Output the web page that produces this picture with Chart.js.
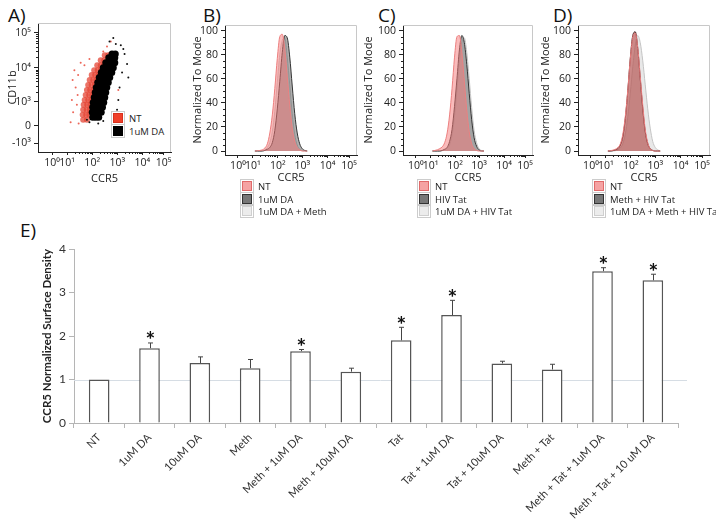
<!DOCTYPE html>
<html>
<head>
<meta charset="utf-8">
<script src="https://cdn.jsdelivr.net/npm/chart.js@4.4.1/dist/chart.umd.min.js"></script>
<style>
  body { margin: 0; width: 716px; height: 520px; position: relative; background: #fff; overflow: hidden; font-family: "Open Sans", sans-serif; }
  canvas { position: absolute; }
  .tag { position: absolute; font-size: 19px; color: #111; line-height: 20px; }
  .leg { position: absolute; font-size: 9.5px; color: #222; line-height: 12.5px; white-space: nowrap; }
  .leg i { display: inline-block; width: 8px; height: 8px; border: 1px solid; margin-right: 6px; vertical-align: -1px; outline: 1px solid #ccc; outline-offset: 1px; }
  .legA { background: #fff; padding: 1px 3px 1px 2px; }
</style>
</head>
<body>
<div class="tag" style="left:8px;top:5px">A)</div>
<div class="tag" style="left:203px;top:5px">B)</div>
<div class="tag" style="left:378px;top:5px">C)</div>
<div class="tag" style="left:553px;top:5px">D)</div>
<div class="tag" style="left:20px;top:220px">E)</div>

<canvas id="chartA" width="185" height="185" style="left:0;top:0"></canvas>
<canvas id="chartB" width="178" height="185" style="left:185px;top:0"></canvas>
<canvas id="chartC" width="176" height="185" style="left:360px;top:0"></canvas>
<canvas id="chartD" width="181" height="185" style="left:535px;top:0"></canvas>
<canvas id="chartE" width="716" height="305" style="left:0;top:215px"></canvas>

<div class="leg legA" style="left:111px;top:112px">
  <div><i style="background:#f0402a;border-color:#d8301c"></i>NT</div>
  <div><i style="background:#000;border-color:#000"></i>1uM DA</div>
</div>
<div class="leg" style="left:242px;top:181px">
  <div><i style="background:#f5a3a3;border-color:#e06a6a"></i>NT</div>
  <div><i style="background:#777;border-color:#333"></i>1uM DA</div>
  <div><i style="background:#ececec;border-color:#cfcfcf"></i>1uM DA + Meth</div>
</div>
<div class="leg" style="left:419px;top:181px">
  <div><i style="background:#f5a3a3;border-color:#e06a6a"></i>NT</div>
  <div><i style="background:#777;border-color:#333"></i>HIV Tat</div>
  <div><i style="background:#ececec;border-color:#cfcfcf"></i>1uM DA + HIV Tat</div>
</div>
<div class="leg" style="left:594px;top:181px">
  <div><i style="background:#f5a3a3;border-color:#e06a6a"></i>NT</div>
  <div><i style="background:#777;border-color:#333"></i>Meth + HIV Tat</div>
  <div><i style="background:#ececec;border-color:#cfcfcf"></i>1uM DA + Meth + HIV Tat</div>
</div>

<script>
const FONT = '"Open Sans", "DejaVu Sans", sans-serif';

// flow axes are in display units (logicle decades), tick labels below
const decadeLabels = ['10⁰', '10¹', '10²', '10³', '10⁴', '10⁵'];
const aTickX = [0.56, 1.16, 2.16, 3.16, 4.16, 5.0];
const aTickY = [0.36, 1.05, 2.02, 3.39, 4.8];
const aTickYLabels = ['-10³', '0', '10³', '10⁴', '10⁵'];
const histTickX = [0.52, 1.12, 2.12, 3.1, 4.12, 4.98];
const histTickY = [0, 20, 40, 60, 80, 100];

// panel A events (CCR5, CD11b)
const redX = [1.80, 1.95, 1.78, 1.92, 2.04, 1.80, 1.94, 2.06, 1.82, 1.96, 2.08, 1.86, 2.00, 2.12,
              1.90, 2.04, 2.16, 1.95, 2.08, 2.20, 2.00, 2.14, 2.26, 2.06, 2.20, 2.32, 2.14, 2.28, 2.40,
              2.24, 2.38, 2.50, 2.36, 2.50, 2.62, 2.50, 2.64, 2.66, 2.80];
const redY = [1.30, 1.30, 1.50, 1.50, 1.50, 1.70, 1.70, 1.70, 1.90, 1.90, 1.90, 2.10, 2.10, 2.10,
              2.30, 2.30, 2.30, 2.50, 2.50, 2.50, 2.70, 2.70, 2.70, 2.90, 2.90, 2.90, 3.10, 3.10, 3.10,
              3.30, 3.30, 3.30, 3.50, 3.50, 3.50, 3.70, 3.70, 3.90, 3.90];
const redSparseX = [1.40, 1.50, 1.30, 2.75, 1.60, 1.35, 1.55, 1.45, 2.90, 3.20, 1.70, 2.60, 1.38, 3.40, 1.62, 1.85, 1.58, 2.05];
const redSparseY = [1.60, 2.60, 1.20, 4.25, 3.10, 2.10, 1.90, 3.30, 4.45, 2.50, 3.60, 4.05, 2.90, 1.40, 1.15, 3.50, 2.30, 3.75];
const blackX = [2.18, 2.30, 2.42, 2.16, 2.28, 2.40, 2.52, 2.18, 2.31, 2.44, 2.57, 2.20, 2.34, 2.48, 2.62,
                2.24, 2.38, 2.52, 2.66, 2.28, 2.42, 2.56, 2.70, 2.32, 2.46, 2.60, 2.74, 2.38, 2.52, 2.66, 2.80,
                2.44, 2.58, 2.72, 2.86, 2.52, 2.66, 2.80, 2.94, 2.60, 2.74, 2.88, 3.00, 2.70, 2.83, 2.96, 3.06,
                2.82, 2.94, 3.06, 2.95, 3.08];
const blackY = [1.40, 1.40, 1.40, 1.60, 1.60, 1.60, 1.60, 1.80, 1.80, 1.80, 1.80, 2.00, 2.00, 2.00, 2.00,
                2.20, 2.20, 2.20, 2.20, 2.40, 2.40, 2.40, 2.40, 2.60, 2.60, 2.60, 2.60, 2.80, 2.80, 2.80, 2.80,
                3.00, 3.00, 3.00, 3.00, 3.20, 3.20, 3.20, 3.20, 3.40, 3.40, 3.40, 3.40, 3.60, 3.60, 3.60, 3.60,
                3.80, 3.80, 3.80, 3.95, 3.95];
const blackSparseX = [3.30, 3.45, 2.85, 3.35, 3.15, 1.95, 3.55, 2.60, 3.00, 3.25, 3.40, 2.40, 3.60, 3.10, 2.05, 3.20];
const blackSparseY = [4.30, 3.95, 4.45, 3.20, 1.70, 1.30, 3.55, 1.25, 4.60, 2.60, 4.15, 1.15, 3.00, 4.35, 1.20, 2.10];

// histograms: shared CCR5 grid, percent of mode
const histX = [1.2, 1.3, 1.4, 1.5, 1.6, 1.7, 1.8, 1.9, 2.0, 2.1, 2.2, 2.3, 2.4, 2.5, 2.6, 2.7, 2.8, 2.9, 3.0, 3.1, 3.2, 3.3];
const ntB     = [0, 0.2, 0.5, 1, 2.5, 6, 15, 30, 52, 77, 95, 97, 85, 62, 38, 19, 8, 3, 1, 0, 0, 0];
const da1B    = [0, 0, 0, 0, 0.5, 1.5, 3, 7, 17, 35, 58, 82, 96, 94, 78, 54, 31, 15, 6, 2, 0.5, 0];
const da1MethB = [0, 0, 0, 0.3, 1, 3, 7, 16, 33, 57, 80, 92, 94, 78, 55, 31, 14, 5, 1.5, 0.3, 0, 0];
const ntC     = [0, 0.5, 1, 2, 3.5, 7, 15, 30, 52, 78, 95, 96, 82, 58, 34, 16, 6, 2, 0.5, 0, 0, 0];
const tatC    = [0, 0, 0, 0, 0.5, 1.5, 3, 8, 18, 37, 60, 84, 96, 90, 72, 48, 26, 11, 4, 1, 0, 0];
const da1TatC = [0, 0, 0, 0, 0.3, 1, 2.5, 5, 13, 28, 50, 74, 91, 94, 82, 60, 36, 17, 7, 2, 0.5, 0];
const ntD     = [0, 0.3, 0.7, 1.5, 3, 6, 14, 29, 51, 77, 95, 98, 86, 62, 38, 18, 7, 2, 0.5, 0, 0, 0];
const methTatD = [0, 0, 0.3, 1, 2, 5, 12, 27, 50, 77, 96, 99, 85, 60, 35, 16, 6, 2, 0.5, 0, 0, 0];
const da1MethTatD = [0, 0, 0, 0.3, 1, 2.5, 6, 14, 28, 48, 70, 88, 96, 90, 75, 55, 35, 19, 8, 3, 1, 0];

// panel E
const groups = ['NT', '1uM DA', '10uM DA', 'Meth', 'Meth + 1uM DA', 'Meth + 10uM DA', 'Tat', 'Tat + 1uM DA',
                'Tat + 10uM DA', 'Meth + Tat', 'Meth + Tat + 1uM DA', 'Meth + Tat + 10 uM DA'];
const density = [1.00, 1.72, 1.38, 1.26, 1.65, 1.18, 1.90, 2.48, 1.37, 1.23, 3.49, 3.28];
const densityErr = [0, 0.12, 0.14, 0.20, 0.04, 0.08, 0.30, 0.34, 0.05, 0.12, 0.08, 0.14];
const significant = [false, true, false, false, true, false, true, true, false, false, true, true];
const baseline = 1;

const minorFrac = [0.30, 0.48, 0.60, 0.70, 0.78, 0.85, 0.90, 0.95];

function pts(xs, ys) {
  return xs.map((x, i) => ({x: x, y: ys[i]}));
}

// light frame on top/right and the small minor ticks of the flow plots
const flowFrame = {
  id: 'flowFrame',
  afterDraw(chart, args, opts) {
    const {ctx, chartArea: a, scales: {x, y}} = chart;
    ctx.save();
    ctx.strokeStyle = '#c8c8c8';
    ctx.lineWidth = 1;
    ctx.beginPath();
    ctx.moveTo(a.left, a.top + 0.5);
    ctx.lineTo(a.right - 0.5, a.top + 0.5);
    ctx.lineTo(a.right - 0.5, a.bottom);
    ctx.stroke();
    ctx.strokeStyle = '#222';
    ctx.beginPath();
    const xt = opts.xTicks;
    for (let i = 1; i < xt.length - 1; i++) {
      for (const f of minorFrac) {
        const px = Math.round(x.getPixelForValue(xt[i] + f * (xt[i + 1] - xt[i]))) + 0.5;
        ctx.moveTo(px, a.bottom);
        ctx.lineTo(px, a.bottom + 2);
      }
    }
    for (const v of opts.yMinor) {
      const py = Math.round(y.getPixelForValue(v)) + 0.5;
      ctx.moveTo(a.left, py);
      ctx.lineTo(a.left - 2, py);
    }
    ctx.stroke();
    ctx.restore();
  }
};

function flowOptions(c) {
  return {
    responsive: false,
    animation: false,
    events: [],
    layout: {padding: {top: c.top, right: c.right, left: 0, bottom: 0}},
    plugins: {
      legend: {display: false},
      tooltip: {enabled: false},
      flowFrame: {xTicks: c.xTicks, yMinor: c.yMinor}
    },
    scales: {
      x: {
        type: 'linear', min: 0, max: 5.3,
        afterFit: s => { s.height = c.xH; },
        afterBuildTicks: s => { s.ticks = c.xTicks.map(v => ({value: v})); },
        ticks: {autoSkip: false, maxRotation: 0, padding: 2, color: '#222',
                font: {size: 10.5, family: FONT}, callback: (v, i) => decadeLabels[i]},
        grid: {drawOnChartArea: false, tickLength: 3, color: '#222'},
        border: {color: '#222'},
        title: {display: true, text: 'CCR5', color: '#222', font: {size: 11, family: FONT},
                padding: {top: 0, bottom: c.xTitlePad}}
      },
      y: {
        type: 'linear', min: c.yMin, max: c.yMax,
        afterFit: s => { s.width = c.left; },
        afterBuildTicks: s => { s.ticks = c.yTicks.map(v => ({value: v})); },
        ticks: {autoSkip: false, padding: 3, color: '#222',
                font: {size: 10.5, family: FONT}, callback: (v, i) => c.yLabels[i]},
        grid: {drawOnChartArea: false, tickLength: 4, color: '#222'},
        border: {color: '#222'},
        title: {display: true, text: c.yTitle, color: '#222', font: {size: 11, family: FONT},
                padding: {top: c.yTitlePad, bottom: 0}}
      }
    }
  };
}

// panel A
new Chart(document.getElementById('chartA'), {
  type: 'scatter',
  data: {
    datasets: [
      {data: pts(redSparseX, redSparseY), backgroundColor: 'rgba(232,64,48,0.8)', pointRadius: 1, borderWidth: 0, order: 4},
      {data: pts(redX, redY), backgroundColor: 'rgba(228,68,52,0.75)', pointRadius: 3, borderWidth: 0, order: 3},
      {data: pts(blackSparseX, blackSparseY), backgroundColor: '#111', pointRadius: 1, borderWidth: 0, order: 2},
      {data: pts(blackX, blackY), backgroundColor: '#000', pointRadius: 3.5, borderWidth: 0, order: 1}
    ]
  },
  options: flowOptions({
    top: 23, right: 14, left: 38, xH: 33, xTitlePad: 0,
    xTicks: aTickX, yTicks: aTickY, yLabels: aTickYLabels,
    yMin: 0, yMax: 5.2, yTitle: 'CD11b', yTitlePad: 6,
    yMinor: [2.43, 2.68, 2.85, 2.98, 3.09, 3.17, 3.25, 3.32, 3.81, 4.07, 4.24, 4.38, 4.49, 4.59, 4.67, 4.74]
  }),
  plugins: [flowFrame]
});

function histSet(ys, fill, line, order) {
  return {data: pts(histX, ys), fill: 'origin', backgroundColor: fill, borderColor: line,
          borderWidth: 1, pointRadius: 0, cubicInterpolationMode: 'monotone', order: order};
}

const histMinor = [5, 10, 15, 25, 30, 35, 45, 50, 55, 65, 70, 75, 85, 90, 95];
const PINK_F = 'rgba(245,120,120,0.5)', PINK_L = '#ec7f7f';
const DARK_F = 'rgba(95,95,95,0.5)', DARK_L = '#333';
const LIGHT_F = 'rgba(210,210,210,0.5)', LIGHT_L = '#c4c4c4';

function histChart(id, sets, c) {
  new Chart(document.getElementById(id), {
    type: 'line',
    data: {datasets: sets},
    options: flowOptions(Object.assign({
      top: 25, xH: 30, xTitlePad: 1, xTicks: histTickX, yTicks: histTickY,
      yLabels: ['0', '20', '40', '60', '80', '100'], yMin: -3.3, yMax: 104.7,
      yTitle: 'Normalized To Mode', yMinor: histMinor
    }, c)),
    plugins: [flowFrame]
  });
}

histChart('chartB', [
  histSet(da1MethB, LIGHT_F, LIGHT_L, 3),
  histSet(da1B, DARK_F, DARK_L, 2),
  histSet(ntB, PINK_F, PINK_L, 1)
], {left: 40, right: 6, yTitlePad: 6});

histChart('chartC', [
  histSet(da1TatC, LIGHT_F, LIGHT_L, 3),
  histSet(tatC, DARK_F, DARK_L, 2),
  histSet(ntC, PINK_F, PINK_L, 1)
], {left: 43, right: 3, yTitlePad: 2});

histChart('chartD', [
  histSet(da1MethTatD, LIGHT_F, LIGHT_L, 3),
  histSet(methTatD, 'rgba(100,45,40,0.5)', '#2a0a0a', 2),
  histSet(ntD, 'rgba(245,120,120,0.4)', PINK_L, 1)
], {left: 43, right: 6, yTitlePad: 4});

// panel E: reference line, error bars and asterisks
const barMarks = {
  id: 'barMarks',
  beforeDatasetsDraw(chart) {
    const {ctx, chartArea: a, scales: {y}} = chart;
    const py = Math.round(y.getPixelForValue(baseline)) + 0.5;
    ctx.save();
    ctx.strokeStyle = '#d6dde4';
    ctx.lineWidth = 1;
    ctx.beginPath();
    ctx.moveTo(a.left, py);
    ctx.lineTo(a.right + 9, py);
    ctx.stroke();
    ctx.restore();
  },
  afterDatasetsDraw(chart) {
    const {ctx, scales: {y}} = chart;
    const bars = chart.getDatasetMeta(0).data;
    ctx.save();
    ctx.strokeStyle = '#444';
    ctx.lineWidth = 1;
    ctx.fillStyle = '#111';
    ctx.font = 'bold 23px Lato';
    ctx.textAlign = 'center';
    ctx.textBaseline = 'middle';
    bars.forEach((bar, i) => {
      const cx = Math.round(bar.x) + 0.5;
      const yTop = y.getPixelForValue(density[i] + densityErr[i]);
      if (densityErr[i] > 0) {
        ctx.beginPath();
        ctx.moveTo(cx, y.getPixelForValue(density[i]));
        ctx.lineTo(cx, yTop);
        ctx.moveTo(cx - 2.5, yTop);
        ctx.lineTo(cx + 2.5, yTop);
        ctx.stroke();
      }
      if (significant[i]) ctx.fillText('*', cx, yTop - 2);
    });
    ctx.restore();
  }
};

new Chart(document.getElementById('chartE'), {
  type: 'bar',
  data: {
    labels: groups,
    datasets: [{
      data: density,
      backgroundColor: '#fff',
      borderColor: '#555',
      borderWidth: 1.5,
      categoryPercentage: 0.5,
      barPercentage: 0.82
    }]
  },
  options: {
    responsive: false,
    animation: false,
    events: [],
    layout: {padding: {top: 34, right: 38, left: 0, bottom: 0}},
    plugins: {legend: {display: false}, tooltip: {enabled: false}},
    scales: {
      x: {
        afterFit: s => { s.height = 97; },
        grid: {drawOnChartArea: false, tickLength: 5, color: '#b5b5b5', offset: true},
        border: {color: '#b5b5b5'},
        ticks: {autoSkip: false, maxRotation: 45, minRotation: 45, padding: 3, color: '#333',
                font: {size: 11, family: 'Lato'}}
      },
      y: {
        min: 0, max: 4,
        afterFit: s => { s.width = 74; },
        ticks: {stepSize: 1, padding: 3, color: '#333', font: {size: 12, family: 'Lato'}},
        grid: {drawOnChartArea: false, tickLength: 5, color: '#b5b5b5'},
        border: {color: '#b5b5b5'},
        title: {display: true, text: 'CCR5 Normalized Surface Density', color: '#222',
                font: {size: 11.5, weight: 'bold', family: 'Lato'}, padding: {top: 40, bottom: 0}}
      }
    }
  },
  plugins: [barMarks]
});
</script>
</body>
</html>
